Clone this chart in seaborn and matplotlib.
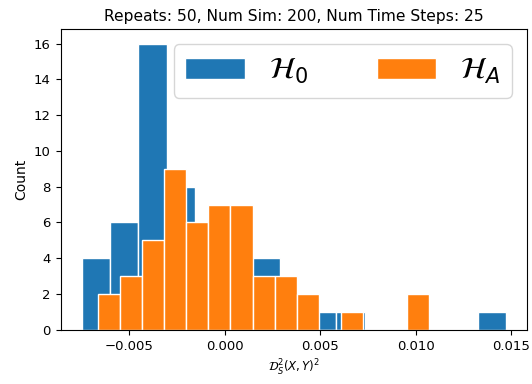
import numpy as np
import pandas as pd
import seaborn as sns
import matplotlib.pyplot as plt

# histogram counts (15 bins each)
h0_lo, h0_hi = -0.00749, 0.01472
h0_counts = [4, 6, 16, 8, 5, 3, 4, 1, 1, 1, 0, 0, 0, 0, 1]

ha_lo, ha_hi = -0.00665, 0.01070
ha_counts = [2, 3, 5, 9, 6, 7, 7, 3, 3, 2, 0, 1, 0, 0, 2]

n_bins = 15


def bin_centers(lo, hi, n):
    w = (hi - lo) / n
    return [lo + w * (i + 0.5) for i in range(n)]


h0 = pd.DataFrame({'x': bin_centers(h0_lo, h0_hi, n_bins), 'w': h0_counts})
ha = pd.DataFrame({'x': bin_centers(ha_lo, ha_hi, n_bins), 'w': ha_counts})

fig = plt.figure(figsize=(5.32, 3.84), dpi=100)
ax = fig.add_axes([0.114, 0.141, 0.877, 0.783])

sns.histplot(data=h0, x='x', weights='w', bins=n_bins, binrange=(h0_lo, h0_hi),
             color='#1f77b4', alpha=1, edgecolor='white', linewidth=1,
             label=r'$\mathcal{H}_0$', ax=ax)
sns.histplot(data=ha, x='x', weights='w', bins=n_bins, binrange=(ha_lo, ha_hi),
             color='#ff7f0e', alpha=1, edgecolor='white', linewidth=1,
             label=r'$\mathcal{H}_A$', ax=ax)

ax.set_title('Repeats: 50, Num Sim: 200, Num Time Steps: 25', fontsize=11.2)
ax.set_xlabel(r'$\mathcal{D}_S^2(X, Y)^2$', fontsize=8.5)
ax.set_ylabel('Count', fontsize=10)
ax.tick_params(labelsize=9.5)
ax.set_xticks([-0.005, 0.0, 0.005, 0.010, 0.015])
ax.set_yticks(range(0, 17, 2))
ax.legend(ncol=2, loc='upper right', fontsize=21.5, columnspacing=2.3)

fig.savefig('out.png', dpi=100)
